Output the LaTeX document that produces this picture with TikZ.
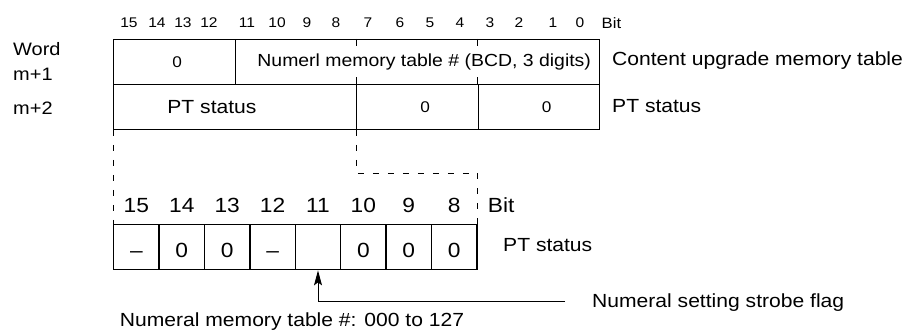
\documentclass[tikz,border=0pt]{standalone}
\usepackage{fontspec}
\setmainfont{Liberation Sans}[FakeStretch=1.11]
\usetikzlibrary{arrows.meta, positioning}

\begin{document}
\begin{tikzpicture}[
  x=1pt, y=-1pt,
  cell/.style={draw, line width=0.9pt, minimum height=45pt, inner sep=0pt, anchor=north west},
  bitcell/.style={draw, line width=1.4pt, minimum width=45.4pt, minimum height=45pt,
                  inner sep=0pt, anchor=north west, text height=21pt, text depth=0pt,
                  font=\fontsize{20.5}{22}\selectfont},
  txt/.style={inner sep=0pt, font=\fontsize{19}{21}\selectfont},
  bignum/.style={inner sep=0pt, font=\fontsize{20.5}{22}\selectfont},
  word/.style={inner sep=0pt, anchor=base west, font=\fontsize{18}{20}\selectfont},
  small/.style={inner sep=0pt, font=\fontsize{14}{16}\selectfont},
  mid/.style={inner sep=0pt, font=\fontsize{15.5}{17}\selectfont},
  link/.style={dash pattern=on 6pt off 9pt, line width=0.9pt},
  arr/.style={-{Stealth[length=15pt, width=8pt, inset=3pt]}, line width=0.9pt}
]
  \useasboundingbox (0,0) rectangle (908,331);

  % word m+1 and m+2
  \node[cell, minimum width=121.5pt, label={[mid, xshift=3pt]center:0}] (w1a) at (113,39) {};
  \node[cell, minimum width=364.5pt,
        label={[mid, font=\fontsize{17.5}{19}\selectfont, xshift=7pt]center:Numerl memory table \# (BCD, 3 digits)}]
        (w1b) at (234.5,39) {};
  \node[cell, minimum width=243pt, label={[txt, xshift=-23pt]center:PT status}] (w2a) at (113,84) {};
  \node[cell, minimum width=121.5pt, label={[mid, xshift=8pt]center:0}] (w2b) at (356,84) {};
  \node[cell, minimum width=121.5pt, label={[mid, xshift=8pt]center:0}] (w2c) at (477.5,84) {};
  \foreach \x in {356,477.5} {
    \draw[line width=0.9pt] (\x,39) -- +(0,7);
    \draw[line width=0.9pt] (\x,84) -- +(0,-7);
  }

  \foreach \b/\x in {15/129,14/157,13/183,12/209,11/247,10/277,9/307,8/336,
                     7/368,6/400,5/430,4/460,3/490,2/519,1/553,0/580}
    \node[small, anchor=base] (u\b) at (\x,27.5) {\b};
  \node[small, font=\fontsize{15}{17}\selectfont, right=17pt of u0] (ubit) {Bit};

  \node[word] (word) at (13,56) {Word};
  \node[word] (m1) at (13,81) {m+1};
  \node[word] (m2) at (13,115) {m+2};
  \node[txt, anchor=base west] (cont) at (612,66) {Content upgrade memory table};
  \node[txt, anchor=base west] (stat) at (612,113) {PT status};

  % bits 15 to 8 of m+2
  \foreach \b/\v [count=\i from 0] in {15/\textendash, 14/0, 13/0, 12/\textendash,
                                      11/{}, 10/0, 9/0, 8/0}
    \node[bitcell] (b\b) at (113+\i*45.4,224) {\v};
  \foreach \b in {15,14,...,8}
    \node[bignum, above=11pt of b\b] (l\b) {\b};
  \node[bignum, right=27pt of l8] (lbit) {Bit};
  \node[txt, anchor=base west] (lstat) at (503,252) {PT status};

  \coordinate (kink) at (356,173);
  \draw[link] (w2a.south west) -- (b15.north west);
  \draw[link] (w2b.south west) -- (kink) -| (b8.north east);

  \node[txt, anchor=base west] (flag) at (592,307) {Numeral setting strobe flag};
  \coordinate (flagend) at (565,301);
  \draw[arr] (flagend) -| (b11.south);
  \node[txt, anchor=base] (range) at (292,326) {Numeral memory table \#: 000 to 127};
\end{tikzpicture}
\end{document}
